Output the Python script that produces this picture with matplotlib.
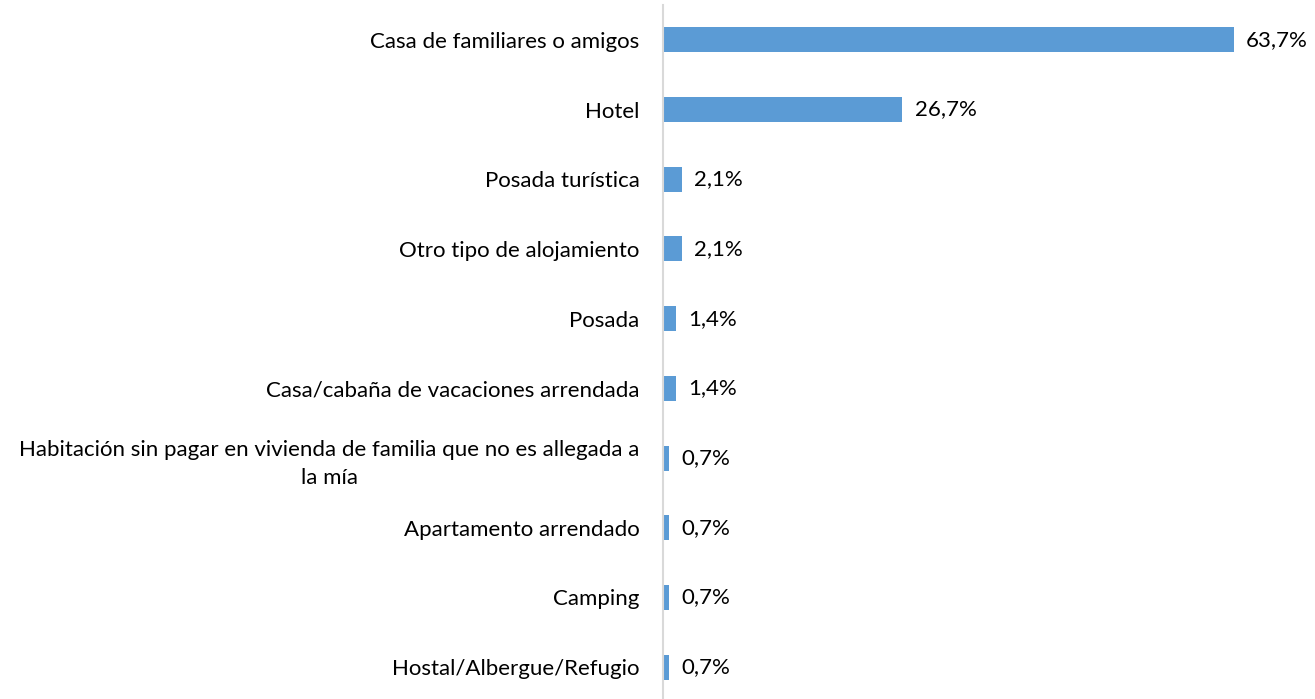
import matplotlib
matplotlib.use("Agg")
import matplotlib.pyplot as plt

categories = [
    "Casa de familiares o amigos",
    "Hotel",
    "Posada turística",
    "Otro tipo de alojamiento",
    "Posada",
    "Casa/cabaña de vacaciones arrendada",
    "Habitación sin pagar en vivienda de familia que no es allegada a\nla mía",
    "Apartamento arrendado",
    "Camping",
    "Hostal/Albergue/Refugio",
]
values = [63.7, 26.7, 2.1, 2.1, 1.4, 1.4, 0.7, 0.7, 0.7, 0.7]
value_labels = ["63,7%", "26,7%", "2,1%", "2,1%", "1,4%", "1,4%", "0,7%", "0,7%", "0,7%", "0,7%"]

W, H = 1315, 699
fig = plt.figure(figsize=(W / 100, H / 100), dpi=100)
left = 663 / W
right = 1290 / W
top = (H - 5) / H
bottom = (H - 702) / H
ax = fig.add_axes([left, bottom, right - left, top - bottom])

font = "Lato"
fs = 16
y = list(range(len(categories)))
ax.barh(y, values, height=0.36, color="#5b9bd5", left=0)
ax.set_xlim(0, 70)
ax.set_ylim(len(categories) - 0.5, -0.5)

for yi, v, lab in zip(y, values, value_labels):
    ax.annotate(lab, (v, yi), xytext=(9, 0), textcoords="offset points",
                va="center", ha="left", fontsize=fs, family=font, color="#000000")

ax.set_yticks(y)
ax.set_yticklabels(categories, fontsize=fs, family=font, color="#000000")
for t in ax.get_yticklabels():
    t.set_multialignment("center")
    t.set_linespacing(1.5)
ax.tick_params(axis="y", length=0, pad=17)
ax.set_xticks([])
for s in ["top", "right", "bottom"]:
    ax.spines[s].set_visible(False)
ax.spines["left"].set_color("#d9d9d9")
ax.spines["left"].set_linewidth(1.5)

fig.savefig("out.png", dpi=100)
